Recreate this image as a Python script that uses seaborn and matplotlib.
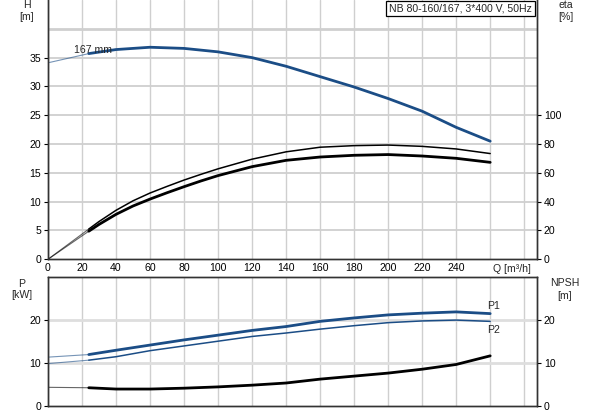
import matplotlib
matplotlib.use("Agg")
import matplotlib.pyplot as plt
import pandas as pd
import seaborn as sns

sns.set_theme(style="white")
plt.rcParams["font.family"] = ["Liberation Sans", "DejaVu Sans"]

# flow points [m3/h]
q = [0, 24, 40, 60, 80, 100, 120, 140, 160, 180, 200, 220, 240, 260]
head = [34.1, 35.7, 36.4, 36.8, 36.6, 36.0, 35.0, 33.5, 31.7, 29.9, 27.9, 25.7, 22.9, 20.5]
p1 = [11.4, 12.0, 13.0, 14.2, 15.4, 16.5, 17.6, 18.5, 19.7, 20.5, 21.2, 21.6, 21.9, 21.5]
p2 = [9.9, 10.7, 11.5, 12.9, 14.0, 15.1, 16.2, 17.0, 17.9, 18.7, 19.4, 19.8, 20.0, 19.7]
npsh = [4.4, 4.3, 4.0, 4.0, 4.2, 4.5, 4.9, 5.4, 6.3, 7.0, 7.7, 8.6, 9.7, 11.7]

# efficiency read on a finer flow grid
q_eta = [0, 24, 30, 40, 50, 60, 70, 80, 90, 100, 120, 140, 160, 180, 200, 220, 240, 260]
eta_upper = [0, 21.0, 26.2, 34.0, 40.6, 46.0, 50.6, 55.0, 59.0, 62.8, 69.5, 74.6,
             77.8, 78.9, 79.3, 78.4, 76.6, 73.4]
eta_lower = [0, 19.5, 24.2, 31.2, 37.0, 41.8, 46.2, 50.4, 54.4, 58.1, 64.3, 68.7,
             71.0, 72.2, 72.7, 71.7, 70.1, 67.3]

x_ticks = list(range(0, 281, 20))
x_labels = [str(v) for v in range(0, 241, 20)] + ["", ""]

BLUE = "#1b4d86"
GRID = "#cfcfcf"
FS = 7.6

df = pd.DataFrame({"Q": q, "H": head, "P1": p1, "P2": p2, "NPSH": npsh})
df_eta = pd.DataFrame({"Q": q_eta, "eta1": eta_upper, "eta2": eta_lower})

fig = plt.figure(figsize=(5.93, 4.15), dpi=100)
ax = fig.add_axes([0.0809, 0.3752, 0.8246, 0.6248])
ax_eta = ax.twinx()
bx = fig.add_axes([0.0809, 0.021, 0.8246, 0.3116])
bx_npsh = bx.twinx()


def draw(axis, frame, col, color, lw_main, lw_start=0.8):
    # thin lead-in up to the first duty point, then the thick curve
    sns.lineplot(data=frame.iloc[:2], x="Q", y=col, ax=axis, color=color, lw=lw_start,
                 alpha=0.6, estimator=None, sort=False)
    sns.lineplot(data=frame.iloc[1:], x="Q", y=col, ax=axis, color=color, lw=lw_main,
                 estimator=None, sort=False)


# top: head + efficiency
draw(ax, df, "H", BLUE, 2.0)
draw(ax_eta, df_eta, "eta1", "black", 1.1)
draw(ax_eta, df_eta, "eta2", "black", 2.0)

ax.set_xlim(0, 287.5)
ax.set_ylim(0, 45)
ax_eta.set_ylim(0, 180)
ax.set_xticks(x_ticks)
ax.set_xticklabels(x_labels)
ax.set_yticks([0, 5, 10, 15, 20, 25, 30, 35])
ax_eta.set_yticks([0, 20, 40, 60, 80, 100])
for v in x_ticks:
    ax.axvline(v, color=GRID, lw=1.0, zorder=0)
for v in [5, 10, 15, 20, 25, 30, 35]:
    ax.axhline(v, color=GRID, lw=1.3, zorder=0)
ax.axhline(40, color=GRID, lw=2.0, zorder=0)
ax.set_xlabel("")
ax.set_ylabel("")
ax_eta.set_ylabel("")
ax.text(273, -0.75, "Q [m³/h]", ha="center", va="top", fontsize=FS)
ax.text(15.5, 36.3, "167 mm", ha="left", va="center", fontsize=FS)

# bottom: power + NPSH
draw(bx, df, "P1", BLUE, 2.0)
draw(bx, df, "P2", BLUE, 1.1)
draw(bx_npsh, df, "NPSH", "black", 2.0)
bx.set_xlim(0, 287.5)
bx.set_ylim(0, 30)
bx_npsh.set_ylim(0, 30)
bx.set_xticks(x_ticks)
bx.set_xticklabels([])
bx.set_yticks([0, 10, 20])
bx_npsh.set_yticks([0, 10, 20])
for v in x_ticks:
    bx.axvline(v, color=GRID, lw=1.0, zorder=0)
for v in [10, 20]:
    bx.axhline(v, color="#dedede", lw=2.0, zorder=0)
bx.set_xlabel("")
bx.set_ylabel("")
bx_npsh.set_ylabel("")
bx.text(258, 23.2, "P1", ha="left", va="center", fontsize=FS)
bx.text(258, 17.8, "P2", ha="left", va="center", fontsize=FS)

for a in (ax, ax_eta, bx, bx_npsh):
    a.tick_params(labelsize=FS, length=3, width=0.8, pad=2, colors="black")
    for s in a.spines.values():
        s.set_color("#333333")
        s.set_linewidth(1.0)
ax.spines["top"].set_visible(False)
ax_eta.spines["top"].set_visible(False)
bx.tick_params(axis="x", length=0)
ax.tick_params(axis="x", length=0, pad=3)

fig.text(27 / 593, 1 - 5 / 415, "H", ha="center", va="center", fontsize=FS)
fig.text(27 / 593, 1 - 17 / 415, "[m]", ha="center", va="center", fontsize=FS)
fig.text(566 / 593, 1 - 5 / 415, "eta", ha="center", va="center", fontsize=FS)
fig.text(566 / 593, 1 - 17 / 415, "[%]", ha="center", va="center", fontsize=FS)
fig.text(22 / 593, 1 - 284 / 415, "P", ha="center", va="center", fontsize=FS)
fig.text(22 / 593, 1 - 295 / 415, "[kW]", ha="center", va="center", fontsize=FS)
fig.text(565 / 593, 1 - 283 / 415, "NPSH", ha="center", va="center", fontsize=FS)
fig.text(565 / 593, 1 - 296 / 415, "[m]", ha="center", va="center", fontsize=FS)
fig.text(532 / 593, 1 - 8.5 / 415, "NB 80-160/167, 3*400 V, 50Hz", ha="right",
         va="center", fontsize=FS,
         bbox=dict(boxstyle="square,pad=0.25", fc="white", ec="black", lw=0.9))

fig.savefig("out.png", dpi=100)
